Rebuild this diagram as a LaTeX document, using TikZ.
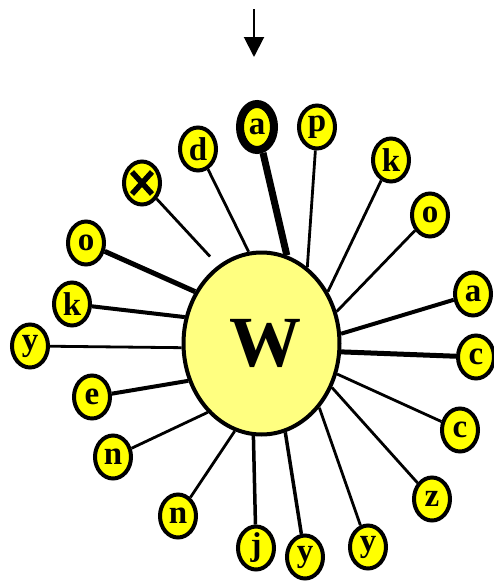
\documentclass[tikz,border=0pt]{standalone}
\usepackage{fontspec}
\setmainfont{Liberation Serif}
\usetikzlibrary{shapes.misc,shapes.geometric,arrows.meta}
\definecolor{leaf}{RGB}{255,255,0}
\definecolor{hubfill}{RGB}{255,255,128}
\begin{document}
\begin{tikzpicture}[x=1pt,y=-1pt,
  leafnode/.style={ellipse,
    draw=black, line width=4pt, fill=leaf, minimum width=36pt, minimum height=43pt, inner sep=0pt,
    font=\fontsize{33}{33}\selectfont\bfseries},
  hubnode/.style={ellipse, draw=black, line width=4pt, fill=hubfill, minimum width=156pt,
    minimum height=182pt, inner sep=0pt, font=\fontsize{72}{72}\selectfont\bfseries},
  edge/.style={draw=black, line width=2.8pt},
  thickedge/.style={draw=black, line width=4pt},
  heavyedge/.style={draw=black, line width=7pt},
  pointer/.style={draw=black, line width=2pt, -{Triangle[width=20pt,length=20pt]}}]
\useasboundingbox (0,0) rectangle (494,584);

% top arrow
\coordinate (arrS) at (254,9);
\coordinate (arrE) at (254,57);
\draw[pointer] (arrS) -- (arrE);

% hub
\node[hubnode] (W) at (261.5,343.5) {\raisebox{-5pt}{\hspace{8pt}W}};

% leaves
\node[leafnode, line width=8pt, minimum width=34pt, minimum height=46pt] (a1) at (257,127) {a};
\node[leafnode] (p1) at (317,127) {p};
\node[leafnode] (d1) at (198,149) {d};
\node[leafnode] (x1) at (142,183) {};
\draw[line width=5.5pt] ([shift={(-10,-11)}]x1.center) -- ([shift={(10,11)}]x1.center);
\draw[line width=5.5pt] ([shift={(-10,11)}]x1.center) -- ([shift={(10,-11)}]x1.center);
\node[leafnode] (k1) at (391,160) {k};
\node[leafnode] (o1) at (430,215) {o};
\node[leafnode] (a2) at (473,294) {a};
\node[leafnode] (c1) at (476,357) {c};
\node[leafnode] (c2) at (460,430) {c};
\node[leafnode] (z1) at (432,499) {z};
\node[leafnode] (y1) at (368,547) {y};
\node[leafnode] (y2) at (305,557) {y};
\node[leafnode] (j1) at (256,548) {j};
\node[leafnode] (n1) at (178,516) {n};
\node[leafnode] (n2) at (113,457) {n};
\node[leafnode] (e1) at (92,397) {e};
\node[leafnode] (y3) at (30,346) {y};
\node[leafnode] (k2) at (72,304) {k};
\node[leafnode] (o2) at (86,243) {o};

% connectors
\draw[heavyedge] (a1) -- (W.74);
\draw[edge] (p1) -- (W.59);
\draw[edge] (d1) -- (W.98);
\draw[edge, shorten >=12pt] (x1) -- (W.119);
\draw[edge] (k1) -- (W.38);
\draw[edge] (o1) -- (W.23);
\draw[thickedge] (a2) -- (W.7);
\draw[thickedge, line width=5pt] (c1) -- (W.-6);
\draw[edge] (c2) -- (W.-22);
\draw[edge] (z1) -- (W.-32);
\draw[edge] (y1) -- (W.-48);
\draw[thickedge, line width=3.5pt] (y2) -- (W.-75);
\draw[thickedge, line width=3.5pt] (j1) -- (W.-95);
\draw[edge] (n1) -- (W.-107);
\draw[edge] (n2) -- (W.-128);
\draw[thickedge, line width=4pt] (e1) -- (W.-153);
\draw[edge] (y3) -- (W.-177);
\draw[thickedge] (k2) -- (W.161);
\draw[thickedge, line width=5pt] (o2) -- (W.142);
\end{tikzpicture}
\end{document}
